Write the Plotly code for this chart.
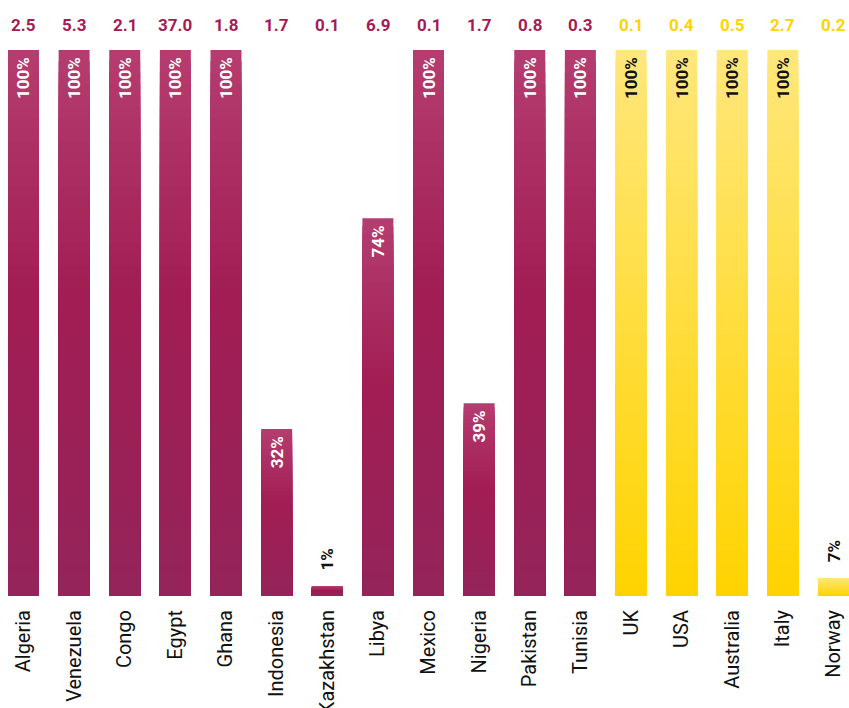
import plotly.graph_objects as go

# ── Data ──────────────────────────────────────────────────────────────────────
countries = ["Algeria", "Venezuela", "Congo", "Egypt", "Ghana", "Indonesia",
             "Kazakhstan", "Libya", "Mexico", "Nigeria", "Pakistan", "Tunisia",
             "UK", "USA", "Australia", "Italy", "Norway"]
bar_height = [100, 100, 100, 100, 100, 30.6, 1.8, 69.2, 100, 35.3, 100, 100,
              100, 100, 100, 100, 3.3]
share_label = ["100%", "100%", "100%", "100%", "100%", "32%", "1%", "74%", "100%",
               "39%", "100%", "100%", "100%", "100%", "100%", "100%", "7%"]
top_label = ["2.5", "5.3", "2.1", "37.0", "1.8", "1.7", "0.1", "6.9", "0.1",
             "1.7", "0.8", "0.3", "0.1", "0.4", "0.5", "2.7", "0.2"]
group = ["p"] * 12 + ["y"] * 5

# ── Styling ───────────────────────────────────────────────────────────────────
FONT = "Roboto, 'Open Sans', sans-serif"
PURPLE_TXT = "#A51C55"
GOLD_TXT = "#FFD400"
# gradient stops: (fraction from top, rgb)
GRAD = {
    "p": [(0.0, (181, 61, 111)), (0.45, (161, 29, 83)), (1.0, (148, 36, 90))],
    "y": [(0.0, (255, 231, 124)), (1.0, (255, 211, 0))],
}
N_SEG = 48
BAR_W = 0.612


def grad_color(g, f):
    stops = GRAD[g]
    for (f0, c0), (f1, c1) in zip(stops[:-1], stops[1:]):
        if f0 <= f <= f1:
            t = (f - f0) / (f1 - f0)
            c = [round(a + (b - a) * t) for a, b in zip(c0, c1)]
            return f"rgb({c[0]},{c[1]},{c[2]})"
    c = stops[-1][1]
    return f"rgb({c[0]},{c[1]},{c[2]})"


fig = go.Figure()

# gradient fill: overlay progressively shorter bars, each one a bit darker/lower colour
for k in range(N_SEG):
    frac = 1 - k / N_SEG                 # share of the bar height this layer covers
    f_top = 1 - frac + 0.5 / N_SEG       # its top edge, measured from bar top
    fig.add_trace(go.Bar(
        x=countries,
        y=[h * frac for h in bar_height],
        width=BAR_W,
        marker=dict(color=[grad_color(g, f_top) for g in group], line=dict(width=0)),
        hoverinfo="skip",
        showlegend=False,
    ))

# transparent bar carrying the share labels (nbsp padding keeps them off the bar edge)
fig.add_trace(go.Bar(
    x=countries,
    y=bar_height,
    width=BAR_W,
    marker=dict(color="rgba(0,0,0,0)", line=dict(width=0)),
    text=["&nbsp;&nbsp;&nbsp;" + s + "&nbsp;" for s in share_label],
    textposition="auto",
    textangle=-90,
    insidetextanchor="end",
    constraintext="none",
    insidetextfont=dict(family=FONT, size=17, weight="bold",
                        color=["#FFFFFF" if g == "p" else "#111111" for g in group]),
    outsidetextfont=dict(family=FONT, size=17, weight="bold", color="#111111"),
    cliponaxis=False,
    hovertemplate="%{x}: %{y}<extra></extra>",
    showlegend=False,
))

annotations = [
    dict(x=c, y=1, xref="x", yref="paper", text=f"<b>{v}</b>", showarrow=False,
         yanchor="middle", yshift=25,
         font=dict(family=FONT, size=17, color=PURPLE_TXT if g == "p" else GOLD_TXT))
    for c, v, g in zip(countries, top_label, group)
]

fig.update_layout(
    width=849, height=708,
    barmode="overlay",
    paper_bgcolor="white",
    plot_bgcolor="white",
    margin=dict(l=0, r=0, t=50, b=112),
    font=dict(family=FONT, color="#111111"),
    annotations=annotations,
    xaxis=dict(
        type="category",
        range=[-0.464, 16.306],
        tickangle=-90,
        tickfont=dict(family=FONT, size=20, color="#111111"),
        ticks="",
        ticklabelstandoff=9,
        showgrid=False, showline=False, zeroline=False,
        automargin=False,
    ),
    yaxis=dict(range=[0, 100], visible=False, automargin=False),
    showlegend=False,
)

# chart fills the whole window: drop the default page margin / scrollbars
fig.write_html(
    "out.html",
    config={"displayModeBar": False},
    post_script="document.body.style.margin='0';document.body.style.overflow='hidden';",
)
